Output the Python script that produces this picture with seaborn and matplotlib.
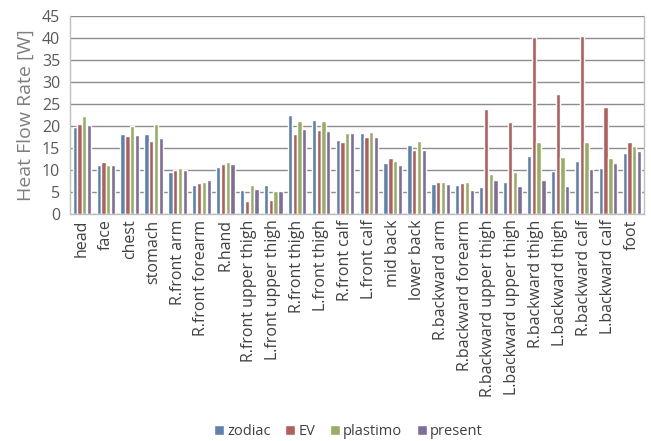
import pandas as pd
import numpy as np
import matplotlib
matplotlib.use("Agg")
import matplotlib.pyplot as plt
import seaborn as sns

# ── Data ─────────────────────────────────────────────────────────────────────
parts = ["head", "face", "chest", "stomach", "R.front arm", "R.front forearm",
         "R.hand", "R.front upper thigh", "L.front upper thigh", "R.front thigh",
         "L.front thigh", "R.front calf", "L.front calf", "mid back", "lower back",
         "R.backward arm", "R.backward forearm", "R.backward upper thigh",
         "L.backward upper thigh", "R.backward thigh", "L.backward thigh",
         "R.backward calf", "L.backward calf", "foot"]

zodiac   = [19.8, 11.1, 18.2, 18.2, 9.5, 6.6, 10.7, 5.5, 6.6, 22.5, 21.4, 16.8,
            18.4, 11.6, 15.7, 6.8, 6.6, 6.1, 7.3, 13.2, 9.8, 12.0, 10.4, 13.9]
ev       = [20.5, 11.8, 17.7, 16.6, 9.9, 7.0, 11.4, 3.0, 3.2, 18.2, 19.1, 16.4,
            17.5, 12.7, 14.5, 7.3, 7.0, 23.9, 20.9, 40.2, 27.3, 40.5, 24.3, 16.4]
plastimo = [22.3, 11.0, 19.9, 20.5, 10.4, 7.3, 11.8, 6.6, 5.2, 21.1, 21.1, 18.4,
            18.6, 12.0, 16.6, 7.3, 7.3, 9.1, 9.5, 16.4, 13.0, 16.4, 12.7, 15.5]
present  = [20.2, 11.1, 17.9, 17.3, 9.9, 7.7, 11.4, 5.7, 5.2, 19.3, 18.9, 18.4,
            17.5, 11.1, 14.5, 6.8, 5.5, 7.7, 6.4, 7.7, 6.4, 10.2, 11.6, 14.3]

series = {"zodiac": zodiac, "EV": ev, "plastimo": plastimo, "present": present}
colors = ["#4F81BD", "#C0504D", "#9BBB59", "#8064A2"]

df = pd.DataFrame([(p, name, v) for name, vals in series.items()
                   for p, v in zip(parts, vals)],
                  columns=["part", "model", "value"])

# ── Plot ─────────────────────────────────────────────────────────────────────
sns.set_theme(style="white")
plt.rcParams["font.family"] = ["Open Sans", "DejaVu Sans"]

fig = plt.figure(figsize=(6.51, 4.41), dpi=100)
ax = fig.add_axes([0.1075, 0.515, 0.8815, 0.449])

sns.barplot(data=df, x="part", y="value", hue="model", palette=colors,
            width=0.8, gap=0.1, ax=ax, legend=True)

ax.set_ylim(0, 45)
ax.set_yticks(np.arange(0, 46, 5))
ax.yaxis.grid(True, color="#8c8c8c", linewidth=1.0)
ax.set_axisbelow(True)
ax.set_xlim(-0.5, len(parts) - 0.5)

for s in ["left", "bottom", "right", "top"]:
    ax.spines[s].set_color("#bfbfbf")
    ax.spines[s].set_linewidth(1.0)
ax.spines["top"].set_visible(False)

ax.tick_params(axis="x", labelrotation=90, labelsize=11.5, colors="#404040", length=0, pad=4)
ax.tick_params(axis="y", labelsize=11.5, colors="#595959", length=0, pad=7)
ax.set_xlabel("")
ax.set_ylabel("Heat Flow Rate [W]", fontsize=14, color="#7f7f7f", labelpad=5)

handles, labels = ax.get_legend_handles_labels()
ax.legend_.remove()
fig.legend(handles, labels, loc="center", bbox_to_anchor=(0.535, 0.022), ncol=4,
           frameon=False, fontsize=10.5, handlelength=0.7, handleheight=0.7,
           handletextpad=0.2, columnspacing=1.0, labelcolor="#404040")

fig.savefig("out.png", dpi=100)
